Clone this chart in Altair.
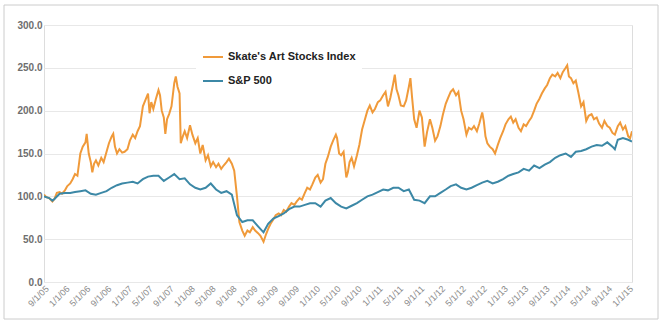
import altair as alt
import pandas as pd

skate_dates = [
"2005-09-01","2005-09-15","2005-10-01","2005-10-20","2005-11-01","2005-11-15","2005-12-01","2005-12-15",
"2006-01-01","2006-01-15","2006-02-01","2006-02-15","2006-03-01","2006-03-15","2006-04-01","2006-04-15",
"2006-05-01","2006-05-08","2006-05-20","2006-06-01","2006-06-10","2006-06-20","2006-07-01","2006-07-15",
"2006-08-01","2006-08-15","2006-09-01","2006-09-15","2006-10-01","2006-10-10","2006-10-20","2006-11-01",
"2006-11-15","2006-12-01","2006-12-15","2007-01-01","2007-01-15","2007-02-01","2007-02-15","2007-03-01",
"2007-03-15","2007-04-01","2007-04-15","2007-05-01","2007-05-10","2007-05-20","2007-06-01","2007-06-15",
"2007-07-01","2007-07-10","2007-07-20","2007-08-01","2007-08-10","2007-08-20","2007-09-01","2007-09-15",
"2007-10-01","2007-10-10","2007-10-20","2007-11-01","2007-11-08","2007-11-20","2007-12-01","2007-12-15",
"2008-01-01","2008-01-15","2008-02-01","2008-02-15","2008-03-01","2008-03-15","2008-04-01","2008-04-15",
"2008-05-01","2008-05-15","2008-06-01","2008-06-15","2008-07-01","2008-07-15","2008-08-01","2008-08-15",
"2008-09-01","2008-09-15","2008-10-01","2008-10-15","2008-11-01","2008-11-15","2008-12-01","2008-12-15",
"2009-01-01","2009-01-15","2009-02-01","2009-02-15","2009-03-05","2009-03-20","2009-04-01","2009-04-15",
"2009-05-01","2009-05-15","2009-06-01","2009-06-15","2009-07-01","2009-07-15","2009-08-01","2009-08-15",
"2009-09-01","2009-09-15","2009-10-01","2009-10-15","2009-11-01","2009-11-15","2009-12-01","2009-12-15",
"2010-01-01","2010-01-15","2010-02-01","2010-02-15","2010-03-01","2010-03-15","2010-04-01","2010-04-15",
"2010-05-01","2010-05-08","2010-05-20","2010-06-01","2010-06-15","2010-07-01","2010-07-10","2010-07-20",
"2010-08-01","2010-08-15","2010-09-01","2010-09-15","2010-10-01","2010-10-15","2010-11-01","2010-11-15",
"2010-12-01","2010-12-15","2011-01-01","2011-01-15","2011-02-01","2011-02-15","2011-03-01","2011-03-15",
"2011-04-01","2011-04-10","2011-04-20","2011-05-01","2011-05-15","2011-06-01","2011-06-15","2011-07-01",
"2011-07-10","2011-07-20","2011-08-01","2011-08-15","2011-09-01","2011-09-15","2011-10-01","2011-10-15",
"2011-11-01","2011-11-15","2011-12-01","2011-12-15","2012-01-01","2012-01-15","2012-02-01","2012-02-15",
"2012-03-01","2012-03-15","2012-04-01","2012-04-15","2012-05-01","2012-05-15","2012-06-01","2012-06-15",
"2012-07-01","2012-07-15","2012-08-01","2012-08-15","2012-09-01","2012-09-10","2012-09-20","2012-10-01",
"2012-10-15","2012-11-01","2012-11-15","2012-12-01","2012-12-15","2013-01-01","2013-01-15","2013-02-01",
"2013-02-15","2013-03-01","2013-03-15","2013-04-01","2013-04-15","2013-05-01","2013-05-15","2013-06-01",
"2013-06-15","2013-07-01","2013-07-15","2013-08-01","2013-08-15","2013-09-01","2013-09-15","2013-10-01",
"2013-10-15","2013-11-01","2013-11-15","2013-12-01","2013-12-15","2014-01-01","2014-01-10","2014-01-20",
"2014-02-01","2014-02-15","2014-03-01","2014-03-15","2014-04-01","2014-04-15","2014-05-01","2014-05-15",
"2014-06-01","2014-06-15","2014-07-01","2014-07-15","2014-08-01","2014-08-15","2014-09-01","2014-09-15",
"2014-10-01","2014-10-15","2014-11-01","2014-11-15","2014-12-01","2014-12-15","2015-01-01","2015-01-12",
"2015-01-23",
]
skate_values = [
102,99,98,94,97,104,105,103,
107,112,115,120,126,124,150,158,
163,173,150,140,128,138,142,136,
145,140,152,162,170,173,158,150,
155,151,152,155,165,172,168,176,
182,205,212,220,197,210,202,213,
224,218,200,192,173,190,196,205,
232,240,228,220,162,170,176,168,
183,172,162,168,150,160,142,148,
135,140,134,138,132,136,140,144,
138,130,100,70,60,54,60,58,
64,60,57,54,47,56,62,68,
73,78,80,78,84,82,88,92,
90,94,98,96,104,110,108,114,
122,125,116,120,138,146,158,165,
172,168,150,148,152,122,128,140,
145,135,148,160,178,188,200,206,
198,202,210,212,218,222,205,215,
232,242,225,218,206,205,212,228,
238,215,190,180,200,192,158,175,
190,180,165,170,182,195,208,215,
222,225,218,222,200,190,172,180,
178,182,176,185,198,188,170,162,
158,155,150,160,168,176,184,190,
193,186,190,180,176,184,182,188,
192,200,208,214,220,226,230,238,
242,240,244,238,245,250,253,240,
238,232,235,222,205,210,188,194,
196,190,192,185,180,188,182,180,
174,172,182,186,178,182,170,168,
176,
]

sp_dates = [
"2005-09-01","2005-10-01","2005-10-20","2005-11-01","2005-12-01","2006-01-01","2006-02-01","2006-03-01",
"2006-04-01","2006-05-01","2006-06-01","2006-07-01","2006-08-01","2006-09-01","2006-10-01","2006-11-01",
"2006-12-01","2007-01-01","2007-02-01","2007-03-01","2007-04-01","2007-05-01","2007-06-01","2007-07-01",
"2007-08-01","2007-09-01","2007-10-01","2007-11-01","2007-12-01","2008-01-01","2008-02-01","2008-03-01",
"2008-04-01","2008-05-01","2008-06-01","2008-07-01","2008-08-01","2008-09-01","2008-10-01","2008-11-01",
"2008-12-01","2009-01-01","2009-02-01","2009-03-05","2009-04-01","2009-05-01","2009-06-01","2009-07-01",
"2009-08-01","2009-09-01","2009-10-01","2009-11-01","2009-12-01","2010-01-01","2010-02-01","2010-03-01",
"2010-04-01","2010-05-01","2010-06-01","2010-07-01","2010-08-01","2010-09-01","2010-10-01","2010-11-01",
"2010-12-01","2011-01-01","2011-02-01","2011-03-01","2011-04-01","2011-05-01","2011-06-01","2011-07-01",
"2011-08-01","2011-09-01","2011-10-01","2011-11-01","2011-12-01","2012-01-01","2012-02-01","2012-03-01",
"2012-04-01","2012-05-01","2012-06-01","2012-07-01","2012-08-01","2012-09-01","2012-10-01","2012-11-01",
"2012-12-01","2013-01-01","2013-02-01","2013-03-01","2013-04-01","2013-05-01","2013-06-01","2013-07-01",
"2013-08-01","2013-09-01","2013-10-01","2013-11-01","2013-12-01","2014-01-01","2014-02-01","2014-03-01",
"2014-04-01","2014-05-01","2014-06-01","2014-07-01","2014-08-01","2014-09-01","2014-10-01","2014-10-15",
"2014-11-01","2014-12-01","2015-01-01","2015-01-23",
]
sp_values = [
100,98,95,97,103,104,104,105,
106,107,103,102,104,106,110,113,
115,116,117,115,120,123,124,124,
118,122,126,120,121,114,110,108,
110,115,108,104,106,102,78,70,
72,72,65,58,68,74,77,80,
85,88,88,90,92,92,88,95,
98,92,88,86,89,92,96,100,
102,105,108,107,110,110,106,108,
96,95,92,100,100,104,108,112,
114,110,108,110,113,116,118,115,
117,120,124,126,128,132,130,136,
133,137,140,145,148,150,146,152,
153,155,158,160,159,163,158,155,
166,168,166,164,
]

SK = "Skate's Art Stocks Index"
SP = "S&P 500"
df = pd.concat([
    pd.DataFrame({"date": skate_dates, "value": skate_values, "series": SK}),
    pd.DataFrame({"date": sp_dates, "value": sp_values, "series": SP}),
])

tick_dates = [f"{y}-{m:02d}-01" for y, m in
              [(2005, 9)] + [(y, m) for y in range(2006, 2015) for m in (1, 5, 9)] + [(2015, 1)]]
tick_vals = [alt.DateTime(year=int(d[:4]), month=int(d[5:7]), date=1) for d in tick_dates]

lines = alt.Chart(df).mark_line(strokeWidth=2, clip=True).encode(
    x=alt.X("date:T",
            scale=alt.Scale(domain=[alt.DateTime(year=2005, month=9, date=1),
                                    alt.DateTime(year=2015, month=1, date=23)]),
            axis=alt.Axis(values=tick_vals, format="%-m/%-d/%y", labelAngle=-45,
                          labelAlign="right", labelBaseline="top", grid=False,
                          domain=False, ticks=False, labelFontSize=9, labelColor="#8a8a8a",
                          labelPadding=2, title=None, labelOverlap=False,
                          labelFont="Liberation Sans")),
    y=alt.Y("value:Q", scale=alt.Scale(domain=[0, 300]),
            axis=alt.Axis(values=[0, 50, 100, 150, 200, 250, 300], format=".1f",
                          domain=False, ticks=False, gridColor="#e8e8e8",
                          labelFontSize=10, labelColor="#6e6e6e", labelPadding=2,
                          labelFontWeight="bold",
                          title=None, labelFont="Liberation Sans")),
    color=alt.Color("series:N",
                    scale=alt.Scale(domain=[SK, SP], range=["#F09A3A", "#3C88A6"]),
                    legend=alt.Legend(title=None, orient="none", legendX=152, legendY=15,
                                      symbolType="stroke", symbolSize=400,
                                      symbolStrokeWidth=2, labelFontSize=11,
                                      labelFontWeight="bold", labelColor="#222222",
                                      labelFont="Liberation Sans", rowPadding=8,
                                      fillColor="white", padding=6)),
)

frame = alt.Chart(pd.DataFrame({"k": [0]})).mark_rect(
    fill=None, stroke="#cccccc", strokeWidth=1).encode(
    x=alt.value(-40), x2=alt.value(614), y=alt.value(-20), y2=alt.value(294))

chart = alt.layer(frame, lines).properties(
    width=588, height=257,
    autosize=alt.AutoSizeParams(type="none"),
    padding={"left": 44, "top": 25, "right": 33, "bottom": 45},
).configure_view(stroke=None).configure(background="white")

chart.save("out.html", embed_options={"renderer": "svg", "actions": False})
